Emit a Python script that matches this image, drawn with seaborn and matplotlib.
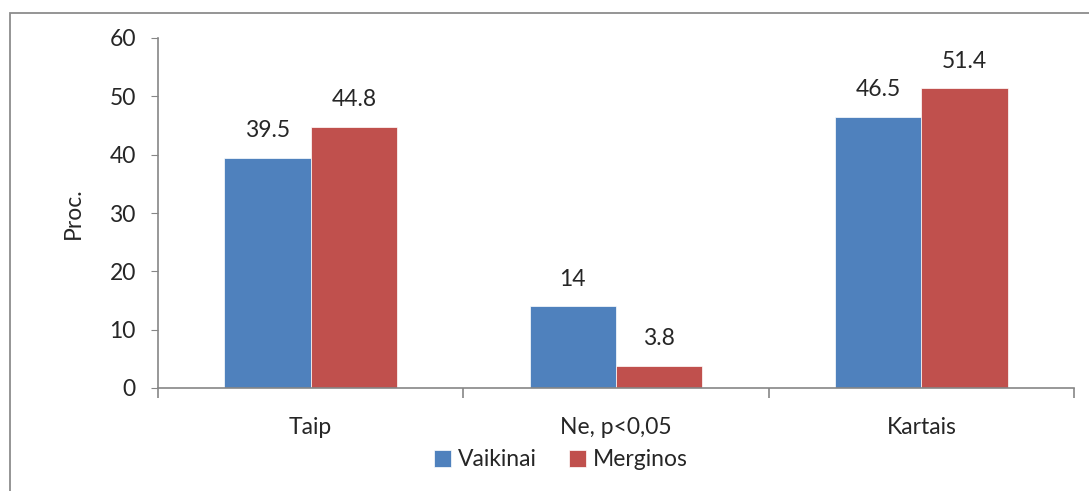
import matplotlib
matplotlib.use('Agg')
import matplotlib.pyplot as plt
import pandas as pd
import seaborn as sns
from matplotlib.patches import Rectangle

categories = ['Taip', 'Ne, p<0,05', 'Kartais']
groups = ['Vaikinai', 'Merginos']
vaikinai = [39.5, 14, 46.5]
merginos = [44.8, 3.8, 51.4]
value_labels = {'Vaikinai': ['39.5', '14', '46.5'], 'Merginos': ['44.8', '3.8', '51.4']}
colors = ['#4F81BD', '#C0504D']

df = pd.DataFrame({
    'cat': categories * 2,
    'grp': [groups[0]] * 3 + [groups[1]] * 3,
    'val': vaikinai + merginos,
})

sns.set_style('white')
plt.rcParams['font.family'] = ['Lato', 'DejaVu Sans']
FS = 16.5

fig = plt.figure(figsize=(10.89, 4.91), dpi=100)
ax = fig.add_axes([158 / 1089, 1 - 388 / 491, 916 / 1089, 350 / 491])

sns.barplot(data=df, x='cat', y='val', hue='grp', order=categories, hue_order=groups,
            palette=colors, width=0.566, ax=ax, errorbar=None, saturation=1,
            edgecolor='white', linewidth=0.5)

for cont, g in zip(ax.containers, groups):
    ax.bar_label(cont, labels=value_labels[g], padding=12, fontsize=FS)

ax.set_xlim(-0.5, 2.5)
ax.set_ylim(0, 60)
ax.set_yticks(range(0, 61, 10))
ax.set_xlabel('')
ax.set_ylabel('Proc.', fontsize=FS, labelpad=18)

for s in ['top', 'right']:
    ax.spines[s].set_visible(False)
for s in ['left', 'bottom']:
    ax.spines[s].set_color('#868686')
    ax.spines[s].set_linewidth(1.2)

ax.tick_params(axis='y', which='major', left=True, length=5, color='#868686',
               labelsize=FS, pad=11)
ax.tick_params(axis='x', which='major', length=0, labelsize=FS, pad=21)
ax.set_xticks([-0.5, 0.5, 1.5, 2.5], minor=True)
ax.tick_params(axis='x', which='minor', bottom=True, length=7, color='#868686', width=1.2)

leg = ax.legend(loc='center', bbox_to_anchor=(561 / 1089, 1 - 460 / 491),
                bbox_transform=fig.transFigure, ncol=2, frameon=False, fontsize=FS,
                handlelength=0.75, handleheight=0.75, handletextpad=0.3, columnspacing=1.4)

fig.patches.append(Rectangle((10 / 1089, -0.05), 1.1, 1 - 13 / 491 + 0.05,
                             transform=fig.transFigure, fill=False,
                             edgecolor='#8c8c8c', linewidth=1.3, zorder=0))

fig.savefig('out.png', dpi=100)
